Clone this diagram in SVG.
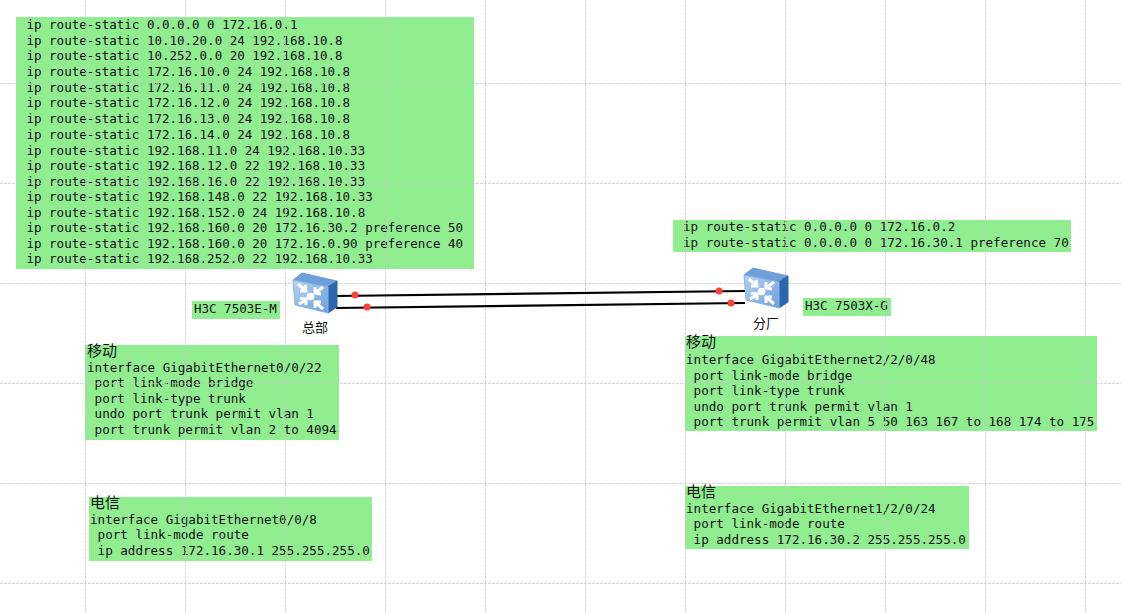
<svg xmlns="http://www.w3.org/2000/svg" width="1121" height="613" viewBox="0 0 1121 613">
<style>
.box{fill:#90ee90}
.t{font-family:"DejaVu Sans Mono",monospace;font-size:12.5px;fill:#111;white-space:pre}
.w{font-size:12.57px}
.h{font-family:"Noto Sans CJK SC",sans-serif;font-size:15px;fill:#111}
.l{font-family:"Noto Sans CJK SC",sans-serif;font-size:13px;fill:#111}
.grid{stroke:#c4c4c4;stroke-width:1;stroke-dasharray:3 1;opacity:.7;fill:none}
.wire{stroke:#000;stroke-width:2.2;fill:none}
.dot{fill:#f9423a}
</style>
<defs>
<linearGradient id="fr" x1="0" y1="0" x2="1" y2="1"><stop offset="0" stop-color="#b5d3f3"/><stop offset="1" stop-color="#6f9fdc"/></linearGradient>
<g id="sw">
<path d="M0 4 L9 -3 L44 5 L35 11Z" fill="#6f9fd8" stroke="#6f9fd8" stroke-width="1" stroke-linejoin="round"/>
<path d="M35 11 L44 5 L44 31 L35 37Z" fill="#2a67ac" stroke="#2a67ac" stroke-width="1" stroke-linejoin="round"/>
<path d="M0 4 L35 11 L35 37 L2 29Z" fill="url(#fr)" stroke="#8db3e2" stroke-width="1" stroke-linejoin="round"/>
<circle cx="17.5" cy="20.5" r="3.8" fill="#fff"/>
<g stroke="#fff" stroke-width="3" fill="none">
<path d="M5 8 L13 15M7 15 L13 15 L12 9"/>
<path d="M30 11 L22 17M22 11 L22 17 L28 18"/>
<path d="M6 28 L13 24M7 22.500 L13 23 L13 29"/>
<path d="M30 33 L22 26M22 32 L22 26 L28 26"/>
</g>
</g>
</defs>
<rect width="1121" height="613" fill="#fff"/>

<g id="n-routes-hq">
<rect class="box" x="16" y="17" width="458" height="252"/>
<text class="t" x="26.500" y="29">ip route-static 0.0.0.0 0 172.16.0.1</text>
<text class="t" x="26.500" y="45">ip route-static 10.10.20.0 24 192.168.10.8</text>
<text class="t" x="26.500" y="60">ip route-static 10.252.0.0 20 192.168.10.8</text>
<text class="t" x="26.500" y="76">ip route-static 172.16.10.0 24 192.168.10.8</text>
<text class="t" x="26.500" y="92">ip route-static 172.16.11.0 24 192.168.10.8</text>
<text class="t" x="26.500" y="107">ip route-static 172.16.12.0 24 192.168.10.8</text>
<text class="t" x="26.500" y="123">ip route-static 172.16.13.0 24 192.168.10.8</text>
<text class="t" x="26.500" y="139">ip route-static 172.16.14.0 24 192.168.10.8</text>
<text class="t" x="26.500" y="155">ip route-static 192.168.11.0 24 192.168.10.33</text>
<text class="t" x="26.500" y="170">ip route-static 192.168.12.0 22 192.168.10.33</text>
<text class="t" x="26.500" y="186">ip route-static 192.168.16.0 22 192.168.10.33</text>
<text class="t" x="26.500" y="201">ip route-static 192.168.148.0 22 192.168.10.33</text>
<text class="t" x="26.500" y="217">ip route-static 192.168.152.0 24 192.168.10.8</text>
<text class="t" x="26.500" y="232">ip route-static 192.168.160.0 20 172.16.30.2 preference 50</text>
<text class="t" x="26.500" y="248">ip route-static 192.168.160.0 20 172.16.0.90 preference 40</text>
<text class="t" x="26.500" y="263">ip route-static 192.168.252.0 22 192.168.10.33</text>
</g>

<g id="n-routes-br">
<rect class="box" x="673" y="220" width="398" height="32"/>
<text class="t w" x="683" y="231">ip route-static 0.0.0.0 0 172.16.0.2</text>
<text class="t w" x="683" y="247">ip route-static 0.0.0.0 0 172.16.30.1 preference 70</text>
</g>

<g id="n-model-hq">
<rect class="box" x="192" y="301" width="88" height="18"/>
<text class="t" x="194" y="313">H3C 7503E-M</text>
</g>
<g id="n-model-br">
<rect class="box" x="803" y="298" width="88" height="18"/>
<text class="t" x="805" y="310">H3C 7503X-G</text>
</g>

<g id="n-mobile-hq">
<rect class="box" x="85" y="345" width="254" height="95"/>
<text class="h" x="87" y="356">移动</text>
<text class="t w" x="87" y="372">interface GigabitEthernet0/0/22</text>
<text class="t w" x="87" y="387"> port link-mode bridge</text>
<text class="t w" x="87" y="403"> port link-type trunk</text>
<text class="t w" x="87" y="418"> undo port trunk permit vlan 1</text>
<text class="t w" x="87" y="434"> port trunk permit vlan 2 to 4094</text>
</g>

<g id="n-mobile-br">
<rect class="box" x="685" y="336" width="412" height="95"/>
<text class="h" x="686" y="347">移动</text>
<text class="t w" x="686" y="364">interface GigabitEthernet2/2/0/48</text>
<text class="t w" x="686" y="380"> port link-mode bridge</text>
<text class="t w" x="686" y="395"> port link-type trunk</text>
<text class="t w" x="686" y="411"> undo port trunk permit vlan 1</text>
<text class="t w" x="686" y="426"> port trunk permit vlan 5 50 163 167 to 168 174 to 175</text>
</g>

<g id="n-telecom-hq">
<rect class="box" x="89" y="497" width="283" height="64"/>
<text class="h" x="90" y="508">电信</text>
<text class="t w" x="90" y="524">interface GigabitEthernet0/0/8</text>
<text class="t w" x="90" y="539"> port link-mode route</text>
<text class="t w" x="90" y="555"> ip address 172.16.30.1 255.255.255.0</text>
</g>

<g id="n-telecom-br">
<rect class="box" x="685" y="486" width="284" height="63"/>
<text class="h" x="686" y="497">电信</text>
<text class="t w" x="686" y="513">interface GigabitEthernet1/2/0/24</text>
<text class="t w" x="686" y="528"> port link-mode route</text>
<text class="t w" x="686" y="544"> ip address 172.16.30.2 255.255.255.0</text>
</g>

<g id="grid">
<path class="grid" d="M85.500 0V613M185.500 0V613M285.500 0V613M385.500 0V613M485.500 0V613M585.500 0V613M685.500 0V613M785.500 0V613M885.500 0V613M985.500 0V613M1085.500 0V613M0 83.500H1121M0 183.500H1121M0 283.500H1121M0 383.500H1121M0 483.500H1121M0 583.500H1121"/>
</g>

<g id="connectors">
<path class="wire" d="M336 296 L745 291"/>
<path class="wire" d="M336 308 L745 303"/>
<circle class="dot" cx="355" cy="295" r="3.500"/>
<circle class="dot" cx="367" cy="307" r="3.500"/>
<circle class="dot" cx="719" cy="291" r="3.500"/>
<circle class="dot" cx="731" cy="303" r="3.500"/>
</g>

<g id="n-hq">
<use href="#sw" x="293" y="276"/>
<text class="l" x="315" y="332" text-anchor="middle">总部</text>
</g>
<g id="n-br">
<use href="#sw" x="744" y="271"/>
<text class="l" x="766" y="328" text-anchor="middle">分厂</text>
</g>
</svg>
